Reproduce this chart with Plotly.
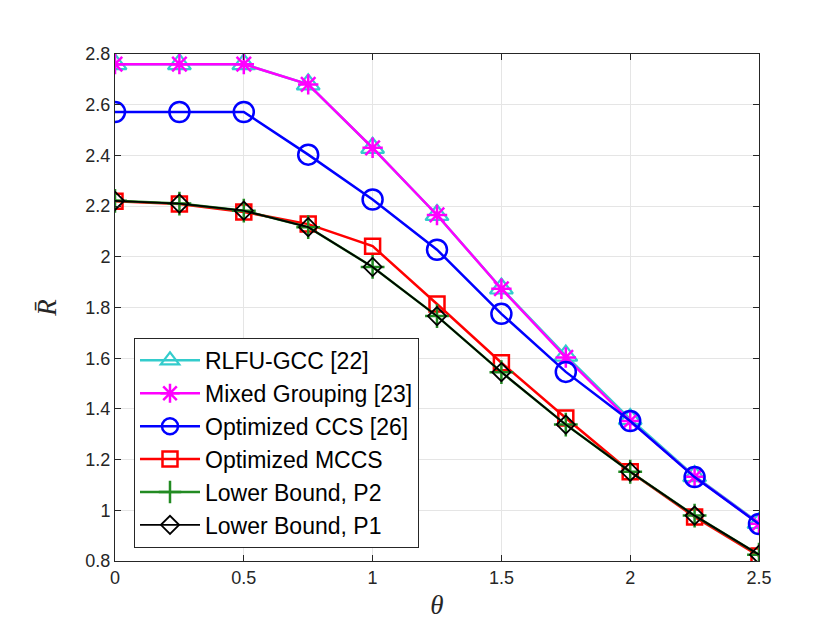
import plotly.graph_objects as go

theta = [0, 0.25, 0.5, 0.75, 1.0, 1.25, 1.5, 1.75, 2.0, 2.25, 2.5]

rlfu_gcc = [2.76, 2.76, 2.76, 2.68, 2.43, 2.165, 1.875, 1.61, 1.36, 1.135, 0.95]
mixed_grouping = [2.76, 2.76, 2.76, 2.68, 2.43, 2.165, 1.874, 1.603, 1.352, 1.132, 0.947]
optimized_ccs = [2.571, 2.571, 2.571, 2.403, 2.226, 2.028, 1.775, 1.546, 1.352, 1.131, 0.946]
optimized_mccs = [2.219, 2.208, 2.177, 2.129, 2.042, 1.814, 1.582, 1.364, 1.152, 0.974, 0.82]
lower_p2 = [2.221, 2.21, 2.182, 2.117, 1.96, 1.766, 1.545, 1.338, 1.152, 0.979, 0.825]
lower_p1 = [2.221, 2.21, 2.182, 2.117, 1.96, 1.766, 1.545, 1.338, 1.152, 0.979, 0.825]

fig = go.Figure()

fig.add_trace(go.Scatter(x=theta, y=rlfu_gcc, name="RLFU-GCC [22]", mode="lines+markers",
                         line=dict(color="#33CCCC", width=2.5),
                         marker=dict(symbol="triangle-up-open", size=20, line=dict(width=2.2))))
fig.add_trace(go.Scatter(x=theta, y=mixed_grouping, name="Mixed Grouping [23]", mode="lines+markers",
                         line=dict(color="#FF00FF", width=2.5),
                         marker=dict(symbol="asterisk-open", size=17, line=dict(width=2.5, color="#FF00FF"))))
fig.add_trace(go.Scatter(x=theta, y=optimized_ccs, name="Optimized CCS [26]", mode="lines+markers",
                         line=dict(color="#0000FF", width=2.5),
                         marker=dict(symbol="circle-open", size=20, line=dict(width=2.5))))
fig.add_trace(go.Scatter(x=theta, y=optimized_mccs, name="Optimized MCCS", mode="lines+markers",
                         line=dict(color="#FF0000", width=2.5),
                         marker=dict(symbol="square-open", size=15, line=dict(width=2.5))))
fig.add_trace(go.Scatter(x=theta, y=lower_p2, name="Lower Bound, P2", mode="lines+markers",
                         line=dict(color="#228B22", width=2.5),
                         marker=dict(symbol="cross-thin-open", size=17, line=dict(width=2.5, color="#228B22"))))
fig.add_trace(go.Scatter(x=theta, y=lower_p1, name="Lower Bound, P1", mode="lines+markers",
                         line=dict(color="#000000", width=1.8),
                         marker=dict(symbol="diamond-open", size=14, line=dict(width=1.8))))

axis_style = dict(showline=True, linecolor="#262626", linewidth=1, mirror="ticks",
                  ticks="inside", ticklen=6, tickcolor="#262626",
                  showgrid=True, gridcolor="#E5E5E5", gridwidth=1, zeroline=False,
                  tickfont=dict(family="Liberation Sans, Arial", size=18, color="#262626"))

fig.update_xaxes(range=[0, 2.5], tickvals=[0, 0.5, 1, 1.5, 2, 2.5],
                 ticktext=["0", "0.5", "1", "1.5", "2", "2.5"],
                 title=dict(text="<i>θ</i>", font=dict(family="Liberation Serif, Times New Roman", size=27, color="#262626"),
                            standoff=8),
                 **axis_style)
fig.update_yaxes(range=[0.8, 2.8], tickvals=[0.8, 1, 1.2, 1.4, 1.6, 1.8, 2, 2.2, 2.4, 2.6, 2.8],
                 ticktext=["0.8", "1", "1.2", "1.4", "1.6", "1.8", "2", "2.2", "2.4", "2.6", "2.8"],
                 title=dict(text="<i>R\u0304</i>", font=dict(family="Liberation Serif, Times New Roman", size=27, color="#262626"),
                            standoff=20),
                 **axis_style)

fig.update_layout(
    width=830, height=623,
    margin=dict(l=107, r=79, t=46, b=70),
    plot_bgcolor="white", paper_bgcolor="white",
    legend=dict(x=0.0295, y=0.44, xanchor="left", yanchor="top",
                bgcolor="white", bordercolor="#262626", borderwidth=1,
                font=dict(family="Liberation Sans, Arial", size=23, color="#000000"),
                itemwidth=60, tracegroupgap=0),
    showlegend=True,
)

fig.write_html("out.html")
